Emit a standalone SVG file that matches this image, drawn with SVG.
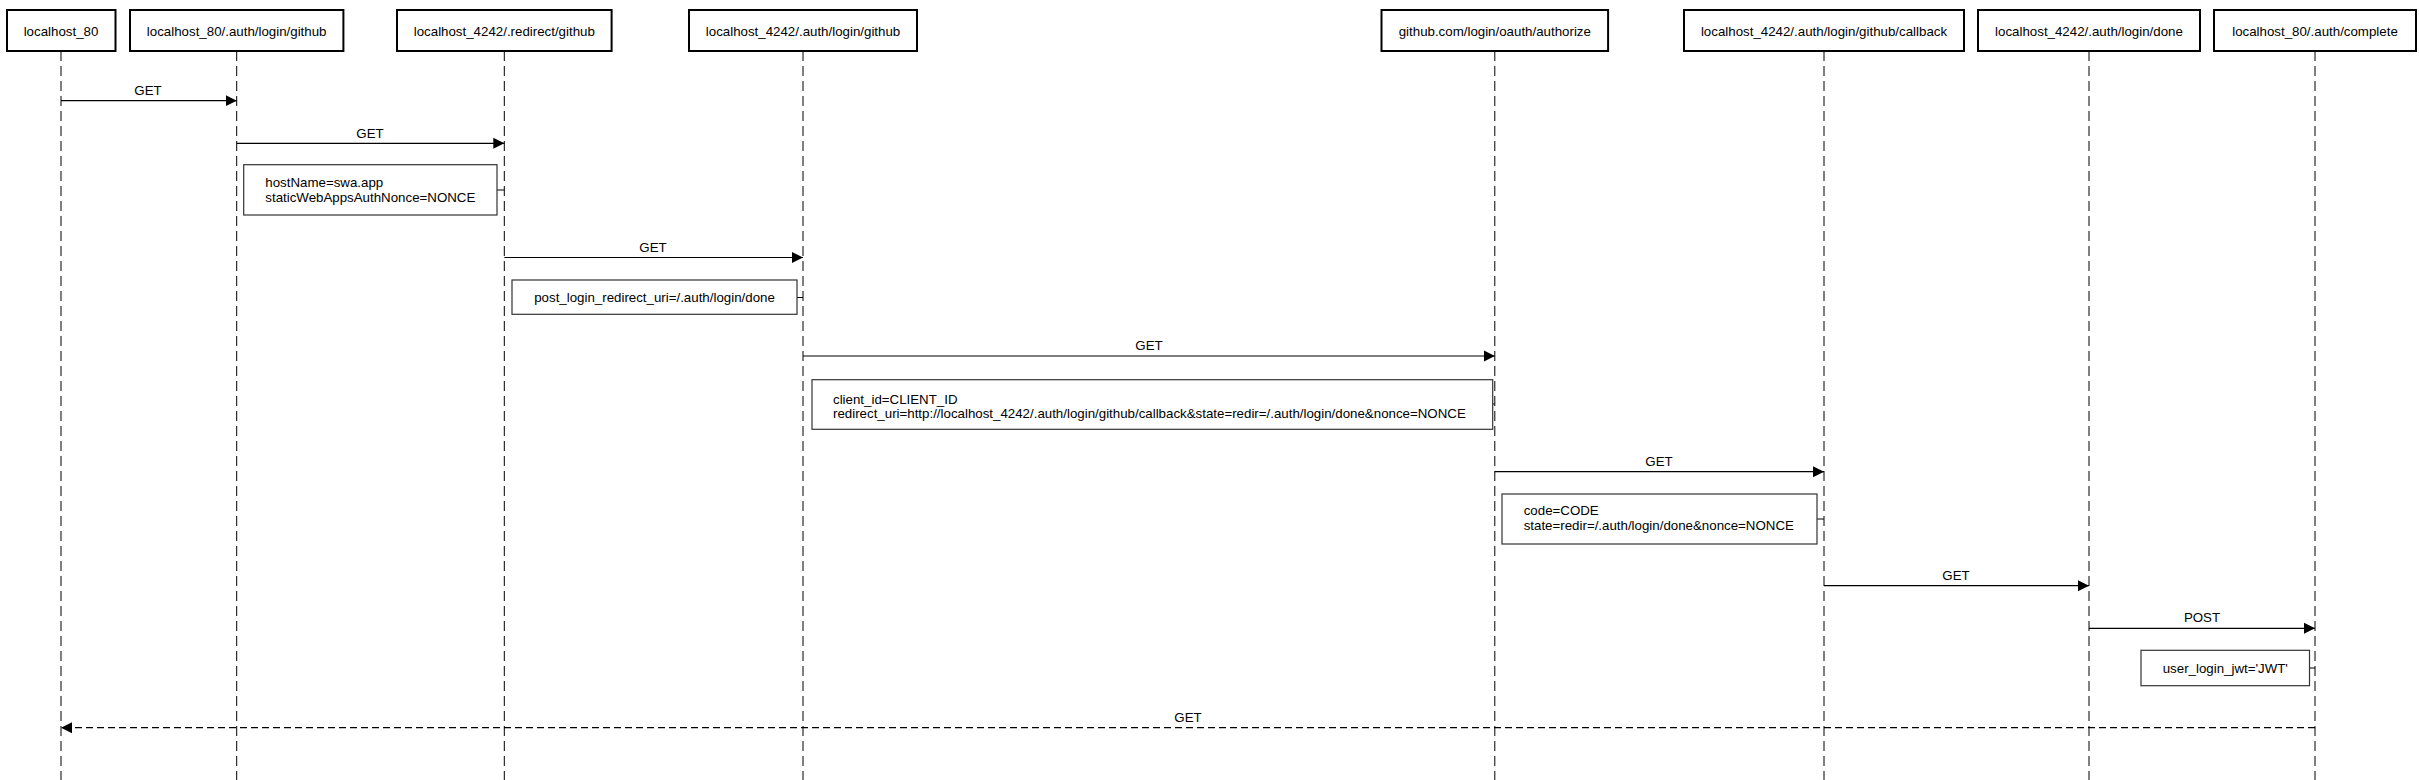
<svg xmlns="http://www.w3.org/2000/svg" width="2419" height="780" viewBox="0 0 2419 780">
<style>
  text { font-family: "Liberation Sans", Arial, Helvetica, sans-serif; font-size: 13.3px; fill: #000; }
  .hdr { fill: #fff; stroke: #000; stroke-width: 2; }
  .life { stroke: #000; stroke-width: 1; stroke-dasharray: 10 5; fill: none; }
  .note { fill: #fff; stroke: #333; stroke-width: 1.2; }
  .msg { stroke: #000; stroke-width: 1.2; fill: none; marker-end: url(#arr); }
  .ret { stroke: #000; stroke-width: 1.2; fill: none; stroke-dasharray: 7 4; marker-end: url(#arr); }
  .tick { stroke: #000; stroke-width: 1; fill: none; }
  .c { text-anchor: middle; }
</style>
<defs>
  <marker id="arr" markerWidth="12" markerHeight="12" refX="11" refY="6" orient="auto" markerUnits="userSpaceOnUse">
    <path d="M0,0.5 L11,6 L0,11.5 z" fill="#000"/>
  </marker>
</defs>
<rect width="2419" height="780" fill="#fff"/>

<g id="node-localhost_80">
  <line class="life" x1="61" y1="51" x2="61" y2="780"/>
  <rect class="hdr" x="7" y="10" width="108.5" height="41"/>
  <text class="c" x="61" y="36.4">localhost_80</text>
</g>
<g id="node-localhost_80-auth-login-github">
  <line class="life" x1="236.7" y1="51" x2="236.7" y2="780"/>
  <rect class="hdr" x="130" y="10" width="213.4" height="41"/>
  <text class="c" x="236.7" y="36.4">localhost_80/.auth/login/github</text>
</g>
<g id="node-localhost_4242-redirect-github">
  <line class="life" x1="504.3" y1="51" x2="504.3" y2="780"/>
  <rect class="hdr" x="397" y="10" width="214.6" height="41"/>
  <text class="c" x="504.3" y="36.4">localhost_4242/.redirect/github</text>
</g>
<g id="node-localhost_4242-auth-login-github">
  <line class="life" x1="803" y1="51" x2="803" y2="780"/>
  <rect class="hdr" x="689" y="10" width="228" height="41"/>
  <text class="c" x="803" y="36.4">localhost_4242/.auth/login/github</text>
</g>
<g id="node-github-authorize">
  <line class="life" x1="1494.8" y1="51" x2="1494.8" y2="780"/>
  <rect class="hdr" x="1381.5" y="10" width="226.6" height="41"/>
  <text class="c" x="1494.8" y="36.4">github.com/login/oauth/authorize</text>
</g>
<g id="node-localhost_4242-callback">
  <line class="life" x1="1824" y1="51" x2="1824" y2="780"/>
  <rect class="hdr" x="1684" y="10" width="280" height="41"/>
  <text class="c" x="1824" y="36.4">localhost_4242/.auth/login/github/callback</text>
</g>
<g id="node-localhost_4242-done">
  <line class="life" x1="2089" y1="51" x2="2089" y2="780"/>
  <rect class="hdr" x="1978" y="10" width="222" height="41"/>
  <text class="c" x="2089" y="36.4">localhost_4242/.auth/login/done</text>
</g>
<g id="node-localhost_80-complete">
  <line class="life" x1="2315" y1="51" x2="2315" y2="780"/>
  <rect class="hdr" x="2214" y="10" width="202" height="41"/>
  <text class="c" x="2315" y="36.4">localhost_80/.auth/complete</text>
</g>

<g id="note-1">
  <line class="tick" x1="497" y1="190" x2="504.3" y2="190"/>
  <rect class="note" x="243.7" y="164.7" width="253.3" height="50.3"/>
  <text x="265.3" y="187">hostName=swa.app</text>
  <text x="265.3" y="202">staticWebAppsAuthNonce=NONCE</text>
</g>
<g id="note-2">
  <line class="tick" x1="797" y1="297.5" x2="803" y2="297.5"/>
  <rect class="note" x="512" y="280" width="285" height="34.3"/>
  <text class="c" x="654.5" y="302">post_login_redirect_uri=/.auth/login/done</text>
</g>
<g id="note-3">
  <line class="tick" x1="1492.7" y1="404" x2="1494.8" y2="404"/>
  <rect class="note" x="812" y="379.7" width="680.7" height="49.6"/>
  <text x="833" y="403.5">client_id=CLIENT_ID</text>
  <text x="833" y="417.5">redirect_uri=http://localhost_4242/.auth/login/github/callback&amp;state=redir=/.auth/login/done&amp;nonce=NONCE</text>
</g>
<g id="note-4">
  <line class="tick" x1="1817" y1="519" x2="1824" y2="519"/>
  <rect class="note" x="1502" y="494" width="315" height="50"/>
  <text x="1523.7" y="515">code=CODE</text>
  <text x="1523.7" y="530">state=redir=/.auth/login/done&amp;nonce=NONCE</text>
</g>
<g id="note-5">
  <line class="tick" x1="2309.5" y1="668" x2="2315" y2="668"/>
  <rect class="note" x="2141" y="650.3" width="168.5" height="35.4"/>
  <text class="c" x="2225.3" y="672.5">user_login_jwt='JWT'</text>
</g>

<g id="connectors">
  <line class="msg" x1="61" y1="100.7" x2="236.7" y2="100.7"/>
  <text class="c" x="148" y="95">GET</text>
  <line class="msg" x1="236.7" y1="143.3" x2="504.3" y2="143.3"/>
  <text class="c" x="370" y="137.5">GET</text>
  <line class="msg" x1="504.3" y1="257.5" x2="803" y2="257.5"/>
  <text class="c" x="653" y="251.5">GET</text>
  <line class="msg" x1="803" y1="356" x2="1494.8" y2="356"/>
  <text class="c" x="1149" y="350">GET</text>
  <line class="msg" x1="1494.8" y1="471.7" x2="1824" y2="471.7"/>
  <text class="c" x="1659" y="465.5">GET</text>
  <line class="msg" x1="1824" y1="585.7" x2="2089" y2="585.7"/>
  <text class="c" x="1956" y="579.8">GET</text>
  <line class="msg" x1="2089" y1="628.3" x2="2315" y2="628.3"/>
  <text class="c" x="2202" y="622.3">POST</text>
  <line class="ret" x1="2315" y1="727.7" x2="61" y2="727.7"/>
  <text class="c" x="1188" y="722">GET</text>
</g>
</svg>
